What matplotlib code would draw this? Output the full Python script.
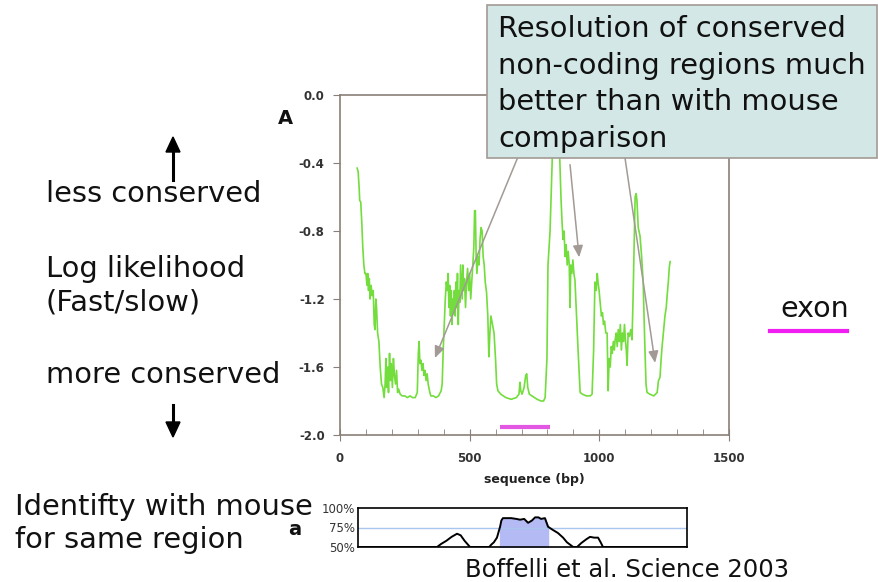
import numpy as np
import matplotlib
matplotlib.use("Agg")
import matplotlib.pyplot as plt
from matplotlib.patches import Rectangle

# log likelihood (fast/slow) along the sequence
seq_bp = [66, 70, 74, 76, 80, 84, 88, 92, 96, 100, 104, 107, 110, 113, 116, 120, 124, 128,
          132, 135, 138, 141, 145, 150, 155, 160, 165, 170, 174, 177, 180, 184, 187, 191,
          194, 198, 202, 206, 210, 214, 218, 222, 226, 232, 240, 250, 260, 270, 280, 290,
          298, 302, 305, 308, 312, 316, 320, 324, 328, 332, 336, 340, 345, 350, 360, 370,
          380, 390, 394, 398, 402, 406, 410, 414, 417, 420, 423, 426, 429, 432, 435, 438,
          441, 444, 447, 450, 453, 456, 459, 462, 465, 468, 471, 474, 477, 480, 484, 488,
          492, 496, 500, 504, 508, 512, 516, 519, 522, 525, 528, 532, 536, 540, 544, 548,
          552, 556, 560, 565, 570, 574, 578, 582, 588, 594, 600, 604, 609, 620, 640, 660,
          680, 690, 694, 697, 702, 710, 716, 720, 724, 730, 740, 760, 775, 785, 791, 798,
          802, 806, 810, 814, 818, 821, 824, 830, 833, 838, 843, 848, 852, 856, 860, 864,
          868, 872, 876, 880, 884, 887, 890, 894, 898, 902, 906, 912, 918, 926, 935, 950,
          965, 972, 978, 983, 988, 992, 995, 999, 1003, 1008, 1012, 1016, 1020, 1025, 1030,
          1034, 1038, 1042, 1046, 1050, 1054, 1058, 1061, 1065, 1069, 1073, 1077, 1081,
          1085, 1089, 1093, 1097, 1101, 1104, 1107, 1111, 1116, 1121, 1126, 1130, 1134,
          1138, 1142, 1145, 1150, 1157, 1163, 1169, 1175, 1180, 1184, 1195, 1210, 1223,
          1228, 1234, 1238, 1242, 1247, 1253, 1258, 1262, 1266, 1270, 1273]
log_lik = [-0.43, -0.45, -0.55, -0.62, -0.63, -0.75, -0.90, -1.00, -1.05, -1.05, -1.12, -1.05,
           -1.15, -1.08, -1.20, -1.12, -1.18, -1.15, -1.35, -1.38, -1.20, -1.25, -1.40, -1.45,
           -1.60, -1.70, -1.72, -1.78, -1.70, -1.55, -1.72, -1.60, -1.75, -1.52, -1.68, -1.58,
           -1.72, -1.55, -1.65, -1.70, -1.62, -1.75, -1.73, -1.76, -1.77, -1.77, -1.78, -1.77,
           -1.78, -1.78, -1.75, -1.52, -1.45, -1.58, -1.56, -1.62, -1.58, -1.65, -1.62, -1.68,
           -1.64, -1.70, -1.74, -1.77, -1.77, -1.78, -1.77, -1.74, -1.70, -1.50, -1.35, -1.20,
           -1.10, -1.15, -1.05, -1.25, -1.12, -1.30, -1.15, -1.35, -1.20, -1.28, -1.15, -1.30,
           -1.10, -1.25, -1.05, -1.35, -1.15, -1.22, -1.00, -1.10, -1.20, -1.00, -1.15, -1.08,
           -1.25, -1.10, -1.02, -1.15, -1.05, -1.20, -1.10, -1.00, -0.90, -0.68, -0.68, -0.95,
           -1.05, -0.95, -1.00, -0.85, -0.78, -0.80, -0.95, -1.00, -1.10, -1.16, -1.30, -1.54,
           -1.40, -1.30, -1.35, -1.40, -1.56, -1.70, -1.74, -1.76, -1.78, -1.79, -1.78, -1.76,
           -1.69, -1.74, -1.76, -1.72, -1.65, -1.64, -1.72, -1.76, -1.77, -1.79, -1.80, -1.80,
           -1.78, -1.55, -1.00, -0.90, -0.80, -0.60, -0.40, -0.20, -0.10, -0.15, -0.30, -0.10,
           -0.20, -0.40, -0.60, -0.74, -0.85, -0.80, -0.95, -0.88, -1.00, -0.92, -1.00, -1.25,
           -1.00, -1.05, -0.97, -1.05, -1.09, -1.30, -1.50, -1.75, -1.76, -1.77, -1.77, -1.76,
           -1.50, -1.10, -1.15, -1.05, -1.10, -1.15, -1.22, -1.30, -1.28, -1.35, -1.33, -1.40,
           -1.40, -1.74, -1.55, -1.60, -1.48, -1.52, -1.45, -1.50, -1.44, -1.40, -1.48, -1.38,
           -1.45, -1.35, -1.50, -1.40, -1.45, -1.35, -1.45, -1.50, -1.59, -1.40, -1.42, -1.38,
           -1.44, -1.20, -0.90, -0.60, -0.58, -0.62, -0.78, -0.83, -0.95, -1.10, -1.45, -1.70,
           -1.75, -1.76, -1.77, -1.75, -1.68, -1.66, -1.56, -1.48, -1.40, -1.30, -1.25, -1.17,
           -1.10, -1.01, -0.98]

exon_bp = [617, 810]

# identity with mouse, panel a
ident_bp = [69, 374, 390, 410, 430, 451, 465, 480, 501, 575, 583, 593, 605, 617, 622, 628,
            640, 660, 680, 694, 710, 725, 740, 752, 765, 775, 790, 802, 820, 840, 860, 875,
            899, 914, 930, 950, 964, 980, 995, 1005, 1014, 1338]
ident_pct = [50, 50, 54, 58, 63, 67, 65, 58, 50, 50, 53, 56, 62, 76, 84, 87, 87, 87, 86, 85,
             86, 81, 84, 88, 88, 86, 87, 76, 72, 68, 62, 56, 50, 50, 55, 60, 63, 62, 62, 56,
             50, 50]
ident_fill = [617, 802]

# arrows: (start bp, start value) -> (target bp, target value)
arrows = [((686, -0.365), (366, -1.547)),
          ((887, -0.41), (922, -0.955)),
          ((1099, -0.37), (1215, -1.576))]

W, H = 879, 582
fig = plt.figure(figsize=(W / 100, H / 100), dpi=100)

spine_c = "#8a7f78"
ax = fig.add_axes([340 / W, 1 - 435 / H, 389 / W, 340 / H])
ax.plot(seq_bp, log_lik, color="#72dd3c", lw=1.2)
ax.plot(exon_bp, [-1.955, -1.955], color="#e258e2", lw=3, solid_capstyle="butt")
ax.set_xlim(0, 1500)
ax.set_ylim(-2.0, 0.0)
ax.set_xticks([0, 500, 1000, 1500])
ax.set_xticks(np.arange(0, 1501, 100), minor=True)
ax.set_yticks([0.0, -0.4, -0.8, -1.2, -1.6, -2.0])
ax.set_yticklabels(["0.0", "-0.4", "-0.8", "-1.2", "-1.6", "-2.0"])
for s in ax.spines.values():
    s.set_color(spine_c)
    s.set_linewidth(1.2)
ax.tick_params(axis="x", which="major", direction="inout", length=8, color=spine_c,
               labelsize=8.5, labelcolor="#333333", pad=8)
ax.tick_params(axis="x", which="minor", direction="in", length=4, color=spine_c)
ax.tick_params(axis="y", direction="out", length=5, color=spine_c,
               labelsize=8.5, labelcolor="#333333", pad=6)
for lab in ax.get_xticklabels() + ax.get_yticklabels():
    lab.set_fontweight("bold")
ax.set_xlabel("sequence (bp)", fontsize=9, fontweight="bold", color="#222222", labelpad=6)

for (x0, y0), (x1, y1) in arrows:
    ax.annotate("", xy=(x1, y1), xytext=(x0, y0),
                arrowprops=dict(arrowstyle="-|>,head_length=0.7,head_width=0.3",
                                color="#a29a95", lw=1.1, shrinkA=0, shrinkB=0))

# panel a
ax2 = fig.add_axes([358 / W, 1 - 547 / H, 329 / W, 39 / H])
ax2.fill_between(ident_bp, 50, ident_pct, color="#b4baf4",
                 where=[ident_fill[0] <= b <= ident_fill[1] for b in ident_bp])
ax2.axhline(75, color="#a9c6ee", lw=1)
ax2.plot(ident_bp, ident_pct, color="black", lw=1.4)
ax2.set_xlim(69, 1338)
ax2.set_ylim(50, 100)
ax2.set_xticks([])
ax2.set_yticks([50, 75, 100])
ax2.set_yticklabels(["50%", "75%", "100%"])
ax2.tick_params(axis="y", length=0, labelsize=8.5, labelcolor="#333333", pad=2)
for s in ax2.spines.values():
    s.set_linewidth(1.2)

# annotation box
fig.add_artist(Rectangle((487 / W, 1 - 158 / H), 390 / W, 153 / H, transform=fig.transFigure,
                         facecolor="#d3e8e6", edgecolor="#a29a95", lw=1.2, zorder=5))
box_lines = ["Resolution of conserved", "non-coding regions much",
             "better than with mouse", "comparison"]
for i, line in enumerate(box_lines):
    fig.text(498 / W, 1 - (37 + 36.7 * i) / H, line, fontsize=20.8, color="#111111",
             va="baseline", ha="left", zorder=6)

big = dict(fontsize=20.8, color="#111111", va="baseline", ha="left")
fig.text(46 / W, 1 - 202 / H, "less conserved", **big)
fig.text(46 / W, 1 - 277 / H, "Log likelihood", **big)
fig.text(46 / W, 1 - 310 / H, "(Fast/slow)", **big)
fig.text(46 / W, 1 - 383 / H, "more conserved", **big)
fig.text(15 / W, 1 - 515 / H, "Identifty with mouse", **big)
fig.text(15 / W, 1 - 548 / H, "for same region", **big)
fig.text(465 / W, 1 - 577 / H, "Boffelli et al. Science 2003", fontsize=17.5, color="#111111",
         va="baseline", ha="left")
fig.text(780 / W, 1 - 317 / H, "exon", fontsize=20.5, color="#111111", va="baseline", ha="left")
fig.add_artist(plt.Line2D([770 / W, 847 / W], [1 - 331 / H, 1 - 331 / H],
                          transform=fig.transFigure, color="#f01ef0", lw=3))

fig.text(278 / W, 1 - 124 / H, "A", fontsize=14, fontweight="bold", color="#111111",
         va="baseline", ha="left")
fig.text(288 / W, 1 - 535 / H, "a", fontsize=14, fontweight="bold", color="#111111",
         va="baseline", ha="left")

# up / down arrows beside the y description
fig.add_artist(plt.Line2D([173 / W, 173 / W], [1 - 180 / H, 1 - 150 / H],
                          transform=fig.transFigure, color="black", lw=2.2))
fig.add_artist(plt.Polygon([[166 / W, 1 - 152 / H], [180 / W, 1 - 152 / H], [173 / W, 1 - 137 / H]],
                           transform=fig.transFigure, color="black"))
fig.add_artist(plt.Line2D([173 / W, 173 / W], [1 - 405 / H, 1 - 424 / H],
                          transform=fig.transFigure, color="black", lw=2.2))
fig.add_artist(plt.Polygon([[166 / W, 1 - 422 / H], [180 / W, 1 - 422 / H], [173 / W, 1 - 437 / H]],
                           transform=fig.transFigure, color="black"))

fig.savefig("out.png", dpi=100)
